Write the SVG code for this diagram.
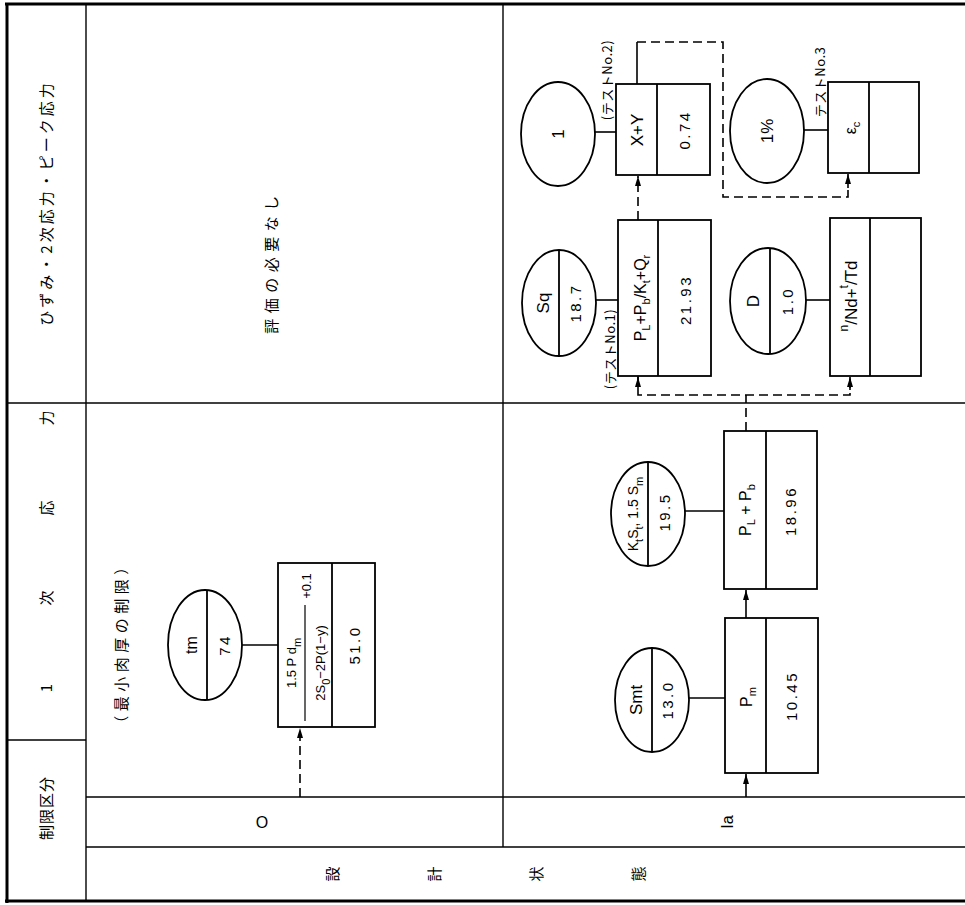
<svg xmlns="http://www.w3.org/2000/svg" width="965" height="905" viewBox="0 0 965 905">
<style>
.b{fill:none;stroke:#000;stroke-width:1.8}
.t{stroke:#000;stroke-width:1.4;fill:none}
.bd{stroke:#000;stroke-width:3;fill:none}
.c{stroke:#000;stroke-width:1.6;fill:none}
.d{stroke:#000;stroke-width:1.6;fill:none;stroke-dasharray:9,5}
.l{font-family:"Liberation Sans",Arial,sans-serif;font-size:15px;fill:#000;text-anchor:middle;dominant-baseline:central}
.n{letter-spacing:2.5px}
.s{font-size:11px}
.j{font-family:"Noto Sans CJK JP","Noto Sans",sans-serif;font-size:14px;fill:#000;text-anchor:middle;dominant-baseline:central}
.k{font-size:13px;letter-spacing:0.5px}
</style>
<defs>
<marker id="ah" viewBox="0 0 10 6" refX="10" refY="3" markerWidth="10" markerHeight="6" markerUnits="userSpaceOnUse" orient="auto"><path d="M0,0 L10,3 L0,6 z" fill="#000"/></marker>
</defs>
<rect width="965" height="905" fill="#fff"/>
<g id="table">
<line class="bd" x1="5" y1="4" x2="965" y2="4"/>
<line class="bd" x1="7" y1="3" x2="7" y2="903"/>
<line class="bd" x1="5" y1="901" x2="965" y2="901"/>
<line class="t" x1="86" y1="4" x2="86" y2="901"/>
<line class="t" x1="7" y1="403" x2="965" y2="403"/>
<line class="t" x1="7" y1="740" x2="86" y2="740"/>
<line class="t" x1="86" y1="797" x2="965" y2="797"/>
<line class="t" x1="86" y1="847" x2="965" y2="847"/>
<line class="t" x1="503" y1="4" x2="503" y2="847"/>
</g>
<g id="headers">
<text class="j" style="font-size:15px" letter-spacing="3" transform="translate(45,203) rotate(-90)">ひずみ・2次応力・ピーク応力</text>
<text class="j" style="font-size:15px" transform="translate(45,553) rotate(-90)"><tspan x="-135">1</tspan><tspan x="-45">次</tspan><tspan x="45">応</tspan><tspan x="135">力</tspan></text>
<text class="j" style="font-size:15px" transform="translate(45,808) rotate(-90)" letter-spacing="1">制限区分</text>
<text class="j" style="font-size:15px" transform="translate(270,262) rotate(-90)" letter-spacing="5.5">評価の必要なし</text>
<text class="j" style="font-size:15px" transform="translate(120,643) rotate(-90)" letter-spacing="4.5">（最小肉厚の制限）</text>
<text class="l" style="font-size:16px" transform="translate(262,822)">O</text>
<text class="l" style="font-size:16px" transform="translate(727,822) rotate(-90)">Ia</text>
<text class="j" style="font-size:15px" transform="translate(331,874) rotate(-90)">設</text>
<text class="j" style="font-size:15px" transform="translate(433,874) rotate(-90)">計</text>
<text class="j" style="font-size:15px" transform="translate(535,874) rotate(-90)">状</text>
<text class="j" style="font-size:15px" transform="translate(637,874) rotate(-90)">態</text>
</g>
<g id="connectors">
<line class="c" x1="242" y1="645" x2="278" y2="645"/>
<line class="d" x1="300" y1="797" x2="300" y2="728" marker-end="url(#ah)"/>
<line class="c" x1="689" y1="698" x2="725" y2="698"/>
<line class="c" x1="746" y1="797" x2="746" y2="774" marker-end="url(#ah)"/>
<line class="c" x1="746" y1="618" x2="746" y2="590" marker-end="url(#ah)"/>
<line class="c" x1="685" y1="511" x2="724" y2="511"/>
<line class="d" x1="746" y1="431" x2="746" y2="395"/>
<polyline class="d" points="638,376 638,395 850,395 850,376"/>
<line class="c" x1="638" y1="390" x2="638" y2="377" marker-end="url(#ah)"/>
<line class="c" x1="850" y1="390" x2="850" y2="377" marker-end="url(#ah)"/>
<line class="c" x1="596" y1="300" x2="618" y2="300"/>
<line class="d" x1="638" y1="220" x2="638" y2="176" marker-end="url(#ah)"/>
<line class="c" x1="595" y1="132" x2="616" y2="132"/>
<line class="c" x1="637" y1="84" x2="637" y2="42"/>
<polyline class="d" points="637,42 723,42 723,197 848,197 848,185"/>
<line class="c" x1="848" y1="188" x2="848" y2="174" marker-end="url(#ah)"/>
<line class="c" x1="804" y1="130" x2="828" y2="130"/>
<line class="c" x1="806" y1="300" x2="830" y2="300"/>
</g>
<g id="n-tm">
<ellipse class="b" cx="205" cy="645" rx="37" ry="55"/>
<line class="b" x1="207" y1="590" x2="207" y2="700"/>
<text class="l" style="font-size:16px" transform="translate(191,645) rotate(-90)">tm</text>
<text class="l n" transform="translate(224,645) rotate(-90)">74</text>
</g>
<g id="n-thick">
<rect class="b" x="278" y="563" width="97" height="164"/>
<line class="b" x1="332" y1="563" x2="332" y2="727"/>
<text class="l" style="font-size:13px" transform="translate(291,663) rotate(-90)">1.5 P d<tspan class="s" baseline-shift="sub">m</tspan></text>
<line class="c" x1="305" y1="605" x2="305" y2="721" style="stroke-width:1.2"/>
<text class="l" style="font-size:13px" transform="translate(320,663) rotate(-90)">2S<tspan class="s" baseline-shift="sub">0</tspan>−2P(1−y)</text>
<text class="l" style="font-size:13px" transform="translate(306,586) rotate(-90)">+0.1</text>
<text class="l n" transform="translate(354,645) rotate(-90)">51.0</text>
</g>
<g id="n-smt">
<ellipse class="b" cx="652" cy="700" rx="37" ry="52"/>
<line class="b" x1="652" y1="648" x2="652" y2="752"/>
<text class="l" style="font-size:17px" transform="translate(636,700) rotate(-90)">Smt</text>
<text class="l n" transform="translate(667,700) rotate(-90)">13.0</text>
</g>
<g id="n-pm">
<rect class="b" x="725" y="618" width="93" height="155"/>
<line class="b" x1="766" y1="618" x2="766" y2="773"/>
<text class="l" style="font-size:16px" transform="translate(746,697) rotate(-90)">P<tspan class="s" baseline-shift="sub">m</tspan></text>
<text class="l n" transform="translate(791,696) rotate(-90)">10.45</text>
</g>
<g id="n-kt">
<ellipse class="b" cx="648" cy="514" rx="37" ry="52"/>
<line class="b" x1="648" y1="462" x2="648" y2="566"/>
<text class="l" style="font-size:14px" transform="translate(633,514) rotate(-90)">K<tspan class="s" baseline-shift="sub">t</tspan>S<tspan class="s" baseline-shift="sub">t</tspan>, 1.5 S<tspan class="s" baseline-shift="sub">m</tspan></text>
<text class="l n" transform="translate(664,512) rotate(-90)">19.5</text>
</g>
<g id="n-plpb">
<rect class="b" x="724" y="431" width="93" height="158"/>
<line class="b" x1="766" y1="431" x2="766" y2="589"/>
<text class="l" style="font-size:16px" transform="translate(745,510) rotate(-90)">P<tspan class="s" baseline-shift="sub">L</tspan> + P<tspan class="s" baseline-shift="sub">b</tspan></text>
<text class="l n" transform="translate(790,511) rotate(-90)">18.96</text>
</g>
<g id="n-sq">
<ellipse class="b" cx="559" cy="303" rx="37" ry="53"/>
<line class="b" x1="559" y1="250" x2="559" y2="356"/>
<text class="l" style="font-size:17px" transform="translate(543,303) rotate(-90)">Sq</text>
<text class="l n" transform="translate(575,303) rotate(-90)">18.7</text>
</g>
<g id="n-pq">
<rect class="b" x="618" y="220" width="93" height="156"/>
<line class="b" x1="658" y1="220" x2="658" y2="376"/>
<text class="l" style="font-size:16px" transform="translate(640,298) rotate(-90)">P<tspan class="s" baseline-shift="sub">L</tspan>+P<tspan class="s" baseline-shift="sub">b</tspan>/K<tspan class="s" baseline-shift="sub">t</tspan>+Q<tspan class="s" baseline-shift="sub">r</tspan></text>
<text class="l n" transform="translate(685,300) rotate(-90)">21.93</text>
<text class="j k" transform="translate(609,349) rotate(-90)">(テストNo.1)</text>
</g>
<g id="n-one">
<ellipse class="b" cx="558" cy="134" rx="37" ry="52"/>
<text class="l" style="font-size:17px" transform="translate(558,134) rotate(-90)">1</text>
</g>
<g id="n-xy">
<rect class="b" x="616" y="84" width="94" height="91"/>
<line class="b" x1="657" y1="84" x2="657" y2="175"/>
<text class="l" style="font-size:17px" transform="translate(637,130) rotate(-90)">X+Y</text>
<text class="l n" transform="translate(684,130) rotate(-90)">0.74</text>
<text class="j k" transform="translate(606,80) rotate(-90)">(テストNo.2)</text>
</g>
<g id="n-pct">
<ellipse class="b" cx="767" cy="131" rx="37" ry="52"/>
<text class="l" style="font-size:17px" transform="translate(767,131) rotate(-90)">1%</text>
</g>
<g id="n-ec">
<rect class="b" x="828" y="82" width="91" height="91"/>
<line class="b" x1="869" y1="82" x2="869" y2="173"/>
<text class="l" style="font-size:16px" transform="translate(850,128) rotate(-90)">ε<tspan class="s" baseline-shift="sub">c</tspan></text>
<text class="j k" transform="translate(819,82) rotate(-90)">テストNo.3</text>
</g>
<g id="n-d">
<ellipse class="b" cx="768" cy="301" rx="38" ry="53"/>
<line class="b" x1="770" y1="248" x2="770" y2="354"/>
<text class="l" style="font-size:17px" transform="translate(753,301) rotate(-90)">D</text>
<text class="l n" transform="translate(787,301) rotate(-90)">1.0</text>
</g>
<g id="n-fat">
<rect class="b" x="830" y="218" width="91" height="158"/>
<line class="b" x1="870" y1="218" x2="870" y2="376"/>
<text class="l" style="font-size:17px" transform="translate(851,296) rotate(-90)"><tspan style="font-size:12px" baseline-shift="super">n</tspan>/Nd+<tspan style="font-size:12px" baseline-shift="super">t</tspan>/Td</text>
</g>
</svg>
